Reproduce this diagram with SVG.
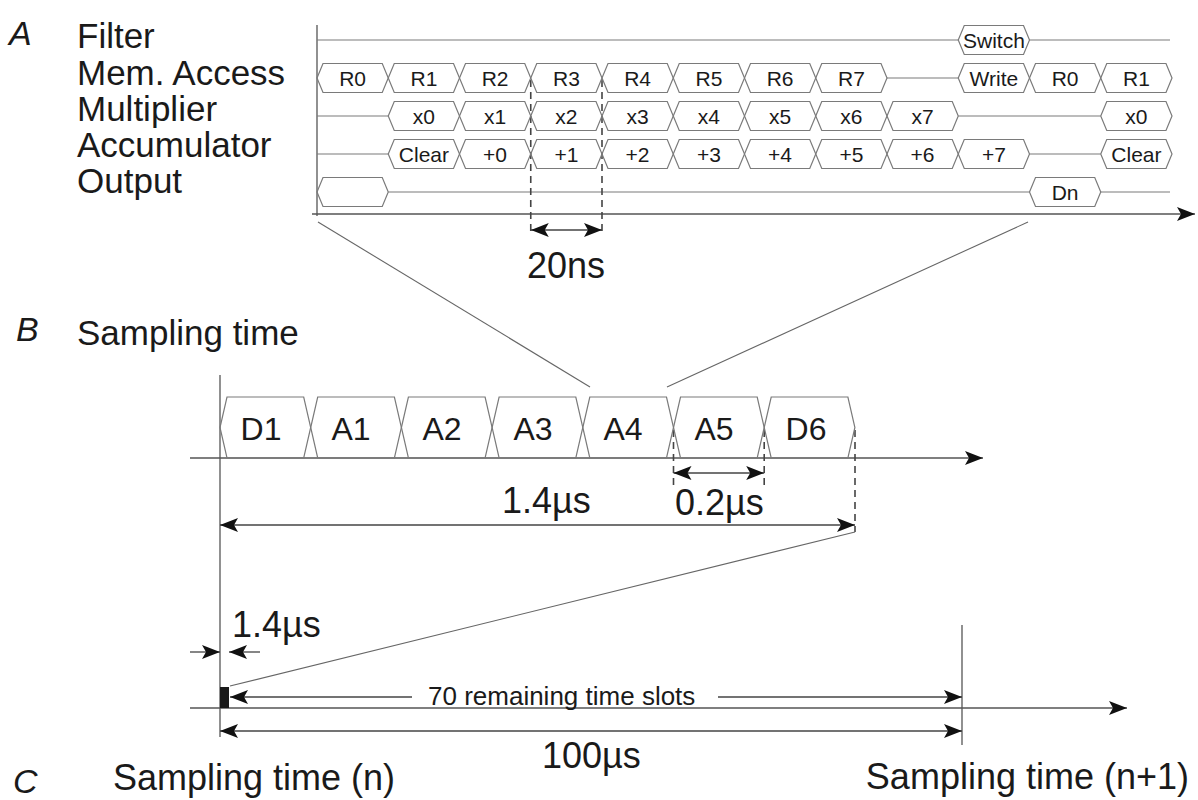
<svg xmlns="http://www.w3.org/2000/svg" xmlns:xlink="http://www.w3.org/1999/xlink" width="1198" height="800" viewBox="0 0 1198 800">
<style>
.lbl{font-family:"Liberation Sans",Arial,sans-serif;font-size:35px;fill:#1a1a1a}
.big{font-family:"Liberation Sans",Arial,sans-serif;font-size:36px;fill:#1a1a1a}
.ital{font-family:"Liberation Sans",Arial,sans-serif;font-size:34px;font-style:italic;fill:#1a1a1a}
.cell{font-family:"Liberation Sans",Arial,sans-serif;font-size:21px;fill:#1a1a1a;text-anchor:middle}
.cellb{font-family:"Liberation Sans",Arial,sans-serif;font-size:32px;fill:#1a1a1a;text-anchor:middle}
.small{font-family:"Liberation Sans",Arial,sans-serif;font-size:26px;fill:#1a1a1a}
.hex{fill:none;stroke:#7a7a7a;stroke-width:1.2}
.sig{fill:none;stroke:#7a7a7a;stroke-width:1.2}
.ax{fill:none;stroke:#555;stroke-width:1.3}
.thin{fill:none;stroke:#666;stroke-width:1.1}
.dash{fill:none;stroke:#444;stroke-width:1.6;stroke-dasharray:7 5}
.dim{fill:none;stroke:#444;stroke-width:1.3}
</style>
<defs>
<path id="hx" class="hex" d="M0,0 L6,-14.5 H65.25 L71.25,0 L65.25,14.5 H6 Z"/>
<path id="hb" class="hex" d="M0,0 L7,-30.5 H83.7 L90.7,0 L83.7,30.5 H7 Z"/>
<marker id="ah" viewBox="0 0 18 14" refX="18" refY="7" markerWidth="18" markerHeight="14" markerUnits="userSpaceOnUse" orient="auto-start-reverse">
<path d="M0,0 L18,7 L0,14 L4,7 Z" fill="#111"/>
</marker>
</defs>

<g id="section-labels">
<text class="ital" x="9" y="45">A</text>
<text class="ital" x="16" y="341">B</text>
<text class="ital" x="13" y="793">C</text>
</g>

<g id="row-labels">
<text class="lbl" x="77" y="48">Filter</text>
<text class="lbl" x="77" y="85">Mem. Access</text>
<text class="lbl" x="77" y="121">Multiplier</text>
<text class="lbl" x="77" y="157">Accumulator</text>
<text class="lbl" x="77" y="193">Output</text>
</g>

<g id="connectors">
<line class="ax" x1="317" y1="25" x2="317" y2="216"/>
<line class="ax" x1="312" y1="214" x2="1195" y2="214" marker-end="url(#ah)"/>
<line class="sig" x1="317" y1="40" x2="958.25" y2="40"/>
<line class="sig" x1="1029.5" y1="40" x2="1170" y2="40"/>
<line class="sig" x1="887" y1="78" x2="958.25" y2="78"/>
<line class="sig" x1="317" y1="116" x2="388.25" y2="116"/>
<line class="sig" x1="958.25" y1="116" x2="1100.75" y2="116"/>
<line class="sig" x1="317" y1="154" x2="388.25" y2="154"/>
<line class="sig" x1="1029.5" y1="154" x2="1100.75" y2="154"/>
<line class="sig" x1="388.25" y1="192" x2="1029.5" y2="192"/>
<line class="sig" x1="1100.75" y1="192" x2="1170" y2="192"/>
<line class="dash" x1="530.75" y1="80" x2="530.75" y2="234"/>
<line class="dash" x1="602" y1="80" x2="602" y2="234"/>
<line class="dim" x1="530.75" y1="230" x2="602" y2="230" marker-start="url(#ah)" marker-end="url(#ah)"/>
<line class="thin" x1="318" y1="222" x2="590" y2="387"/>
<line class="thin" x1="1028" y1="222" x2="667" y2="387"/>
<line class="ax" x1="220" y1="375" x2="220" y2="737"/>
<line class="ax" x1="190" y1="458" x2="983" y2="458" marker-end="url(#ah)"/>
<line class="dash" x1="673.5" y1="430" x2="673.5" y2="488"/>
<line class="dash" x1="764.2" y1="430" x2="764.2" y2="488"/>
<line class="dim" x1="673.5" y1="473" x2="764.2" y2="473" marker-start="url(#ah)" marker-end="url(#ah)"/>
<line class="dash" x1="855" y1="430" x2="855" y2="532"/>
<line class="dim" x1="220" y1="525" x2="855" y2="525" marker-start="url(#ah)" marker-end="url(#ah)"/>
<line class="thin" x1="855" y1="532" x2="230" y2="686"/>
<line class="dim" x1="190" y1="652" x2="220" y2="652" marker-end="url(#ah)"/>
<line class="dim" x1="260" y1="652" x2="229" y2="652" marker-end="url(#ah)"/>
<line class="ax" x1="190" y1="708" x2="1127" y2="708" marker-end="url(#ah)"/>
<line class="ax" x1="962" y1="625" x2="962" y2="745"/>
<line class="dim" x1="412" y1="697" x2="230" y2="697" marker-end="url(#ah)"/>
<line class="dim" x1="718" y1="697" x2="962" y2="697" marker-end="url(#ah)"/>
<line class="dim" x1="220" y1="731" x2="962" y2="731" marker-start="url(#ah)" marker-end="url(#ah)"/>
</g>

<g id="filter-switch"><use href="#hx" x="958.25" y="40"/><text class="cell" x="993.9" y="47.5">Switch</text></g>

<g id="mem-r0"><use href="#hx" x="317" y="78"/><text class="cell" x="352.6" y="85.5">R0</text></g>
<g id="mem-r1"><use href="#hx" x="388.25" y="78"/><text class="cell" x="423.9" y="85.5">R1</text></g>
<g id="mem-r2"><use href="#hx" x="459.5" y="78"/><text class="cell" x="495.1" y="85.5">R2</text></g>
<g id="mem-r3"><use href="#hx" x="530.75" y="78"/><text class="cell" x="566.4" y="85.5">R3</text></g>
<g id="mem-r4"><use href="#hx" x="602" y="78"/><text class="cell" x="637.6" y="85.5">R4</text></g>
<g id="mem-r5"><use href="#hx" x="673.25" y="78"/><text class="cell" x="708.9" y="85.5">R5</text></g>
<g id="mem-r6"><use href="#hx" x="744.5" y="78"/><text class="cell" x="780.1" y="85.5">R6</text></g>
<g id="mem-r7"><use href="#hx" x="815.75" y="78"/><text class="cell" x="851.4" y="85.5">R7</text></g>
<g id="mem-write"><use href="#hx" x="958.25" y="78"/><text class="cell" x="993.9" y="85.5">Write</text></g>
<g id="mem-r0b"><use href="#hx" x="1029.5" y="78"/><text class="cell" x="1065.1" y="85.5">R0</text></g>
<g id="mem-r1b"><use href="#hx" x="1100.75" y="78"/><text class="cell" x="1136.4" y="85.5">R1</text></g>

<g id="mul-x0"><use href="#hx" x="388.25" y="116"/><text class="cell" x="423.9" y="123.5">x0</text></g>
<g id="mul-x1"><use href="#hx" x="459.5" y="116"/><text class="cell" x="495.1" y="123.5">x1</text></g>
<g id="mul-x2"><use href="#hx" x="530.75" y="116"/><text class="cell" x="566.4" y="123.5">x2</text></g>
<g id="mul-x3"><use href="#hx" x="602" y="116"/><text class="cell" x="637.6" y="123.5">x3</text></g>
<g id="mul-x4"><use href="#hx" x="673.25" y="116"/><text class="cell" x="708.9" y="123.5">x4</text></g>
<g id="mul-x5"><use href="#hx" x="744.5" y="116"/><text class="cell" x="780.1" y="123.5">x5</text></g>
<g id="mul-x6"><use href="#hx" x="815.75" y="116"/><text class="cell" x="851.4" y="123.5">x6</text></g>
<g id="mul-x7"><use href="#hx" x="887" y="116"/><text class="cell" x="922.6" y="123.5">x7</text></g>
<g id="mul-x0b"><use href="#hx" x="1100.75" y="116"/><text class="cell" x="1136.4" y="123.5">x0</text></g>

<g id="acc-clear"><use href="#hx" x="388.25" y="154"/><text class="cell" x="423.9" y="161.5">Clear</text></g>
<g id="acc-p0"><use href="#hx" x="459.5" y="154"/><text class="cell" x="495.1" y="161.5">+0</text></g>
<g id="acc-p1"><use href="#hx" x="530.75" y="154"/><text class="cell" x="566.4" y="161.5">+1</text></g>
<g id="acc-p2"><use href="#hx" x="602" y="154"/><text class="cell" x="637.6" y="161.5">+2</text></g>
<g id="acc-p3"><use href="#hx" x="673.25" y="154"/><text class="cell" x="708.9" y="161.5">+3</text></g>
<g id="acc-p4"><use href="#hx" x="744.5" y="154"/><text class="cell" x="780.1" y="161.5">+4</text></g>
<g id="acc-p5"><use href="#hx" x="815.75" y="154"/><text class="cell" x="851.4" y="161.5">+5</text></g>
<g id="acc-p6"><use href="#hx" x="887" y="154"/><text class="cell" x="922.6" y="161.5">+6</text></g>
<g id="acc-p7"><use href="#hx" x="958.25" y="154"/><text class="cell" x="993.9" y="161.5">+7</text></g>
<g id="acc-clearb"><use href="#hx" x="1100.75" y="154"/><text class="cell" x="1136.4" y="161.5">Clear</text></g>

<g id="out-first"><use href="#hx" x="317" y="192"/></g>
<g id="out-dn"><use href="#hx" x="1029.5" y="192"/><text class="cell" x="1065.1" y="199.5">Dn</text></g>

<g id="label-20ns"><text class="big" x="527" y="278">20ns</text></g>

<g id="b-title"><text class="lbl" x="77" y="345">Sampling time</text></g>
<g id="b-d1"><use href="#hb" x="220" y="427.5"/><text class="cellb" x="261" y="440">D1</text></g>
<g id="b-a1"><use href="#hb" x="310.7" y="427.5"/><text class="cellb" x="351" y="440">A1</text></g>
<g id="b-a2"><use href="#hb" x="401.4" y="427.5"/><text class="cellb" x="442" y="440">A2</text></g>
<g id="b-a3"><use href="#hb" x="492.1" y="427.5"/><text class="cellb" x="533" y="440">A3</text></g>
<g id="b-a4"><use href="#hb" x="582.8" y="427.5"/><text class="cellb" x="623" y="440">A4</text></g>
<g id="b-a5"><use href="#hb" x="673.5" y="427.5"/><text class="cellb" x="714" y="440">A5</text></g>
<g id="b-d6"><use href="#hb" x="764.2" y="427.5"/><text class="cellb" x="806" y="440">D6</text></g>
<g id="label-02us"><text class="big" x="675" y="515">0.2µs</text></g>
<g id="label-14us-b"><text class="big" x="502" y="513">1.4µs</text></g>

<g id="c-slot"><rect x="220" y="687" width="9" height="21" fill="#1a1a1a"/></g>
<g id="label-14us-c"><text class="big" x="232" y="637">1.4µs</text></g>
<g id="label-remaining"><text class="small" x="428" y="705">70 remaining time slots</text></g>
<g id="label-100us"><text class="big" x="542" y="768">100µs</text></g>
<g id="label-n"><text class="big" x="113" y="790">Sampling time (n)</text></g>
<g id="label-n1"><text class="big" x="1189" y="789" text-anchor="end">Sampling time (n+1)</text></g>
</svg>
